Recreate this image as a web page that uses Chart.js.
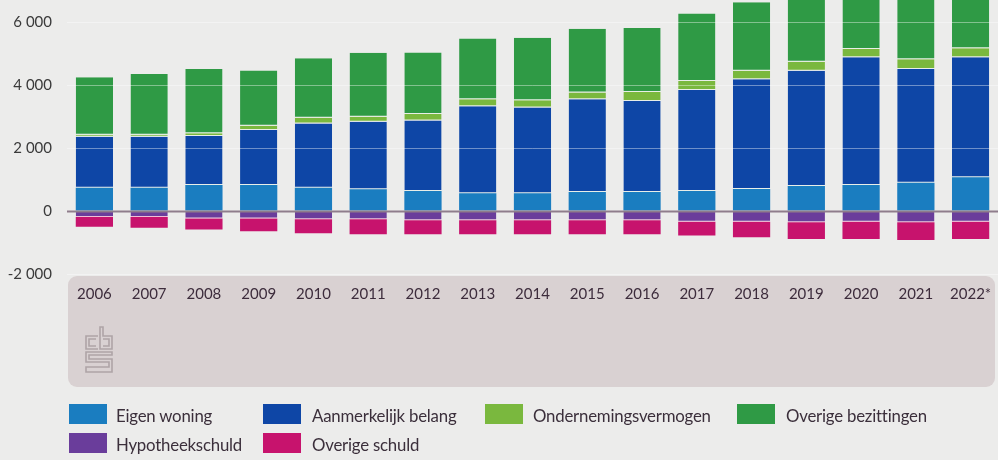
<!DOCTYPE html>
<html>
<head>
<meta charset="utf-8">
<script src="https://cdn.jsdelivr.net/npm/chart.js@4/dist/chart.umd.min.js"></script>
<style>
  html, body { margin: 0; padding: 0; background: #ececeb; }
  #wrap { position: relative; width: 998px; height: 460px; overflow: hidden; }
  #panel { position: absolute; left: 68px; top: 276px; width: 927px; height: 111px; background: #d9d1d2; border-radius: 9px; }
  #logo { position: absolute; left: 82px; top: 325px; }
  canvas { position: absolute; left: 0; top: 0; }
  .lg { position: absolute; font-family: Lato, "Open Sans", sans-serif; font-size: 16.8px; color: #3b2f3b; letter-spacing: -0.2px; }
  .sw { position: absolute; width: 38px; height: 20px; }
</style>
</head>
<body>
<div id="wrap">
  <div id="panel"></div>
  <svg id="logo" width="34" height="50" viewBox="0 0 34 50">
    <g fill="none" stroke="#aea4a7" stroke-width="1.6">
      <path d="M16 11 H4 V24 H16"/>
      <path d="M14 14 H7 V21 H14"/>
      <path d="M18 2 V24 H30 V11 H21 V2 Z"/>
      <path d="M21 14 H27 V21 H21"/>
      <path d="M30 27 H4 V37 H27 V42 H4 V47 H30 V34 H7 V30 H30 Z"/>
    </g>
  </svg>
  <canvas id="c" width="998" height="460"></canvas>
  <div id="legend"></div>
</div>
<script>
const categories = ["2006","2007","2008","2009","2010","2011","2012","2013","2014","2015","2016","2017","2018","2019","2020","2021","2022*"];
const eigenWoning         = [740, 740, 825, 825, 740, 690, 635, 560, 560, 600, 600, 635, 700, 795, 825, 900, 1070];
const aanmerkelijkBelang  = [1620, 1620, 1555, 1745, 2040, 2145, 2235, 2770, 2730, 2945, 2890, 3205, 3480, 3660, 4055, 3610, 3810];
const ondernemingsverm    = [60, 60, 90, 140, 180, 160, 210, 220, 230, 220, 290, 285, 275, 285, 265, 305, 285];
const overigeBezittingen  = [1825, 1930, 2040, 1755, 1890, 2030, 1950, 1930, 1980, 2020, 2030, 2150, 2170, 2300, 2250, 2400, 2300];
const hypotheekschuld     = [-190, -190, -240, -240, -260, -260, -290, -290, -290, -290, -290, -340, -340, -360, -340, -360, -340];
const overigeSchuld       = [-310, -340, -350, -400, -450, -480, -450, -450, -450, -450, -450, -440, -495, -530, -550, -560, -550];
const yTicks = [-2000, 0, 2000, 4000, 6000];

const seriesNames = ["Eigen woning","Aanmerkelijk belang","Ondernemingsvermogen","Overige bezittingen","Hypotheekschuld","Overige schuld"];
const seriesColors = ["#1a7dc0","#0e46a6","#7ab83e","#2f9a45","#6a3d9b","#c7136d"];
const seriesData = [eigenWoning, aanmerkelijkBelang, ondernemingsverm, overigeBezittingen, hypotheekschuld, overigeSchuld];
const sepBorder = [0, 1, 1, 1, 1, 0];

const fmt = v => { const s = Math.abs(v).toString().replace(/\B(?=(\d{3})+(?!\d))/g, " "); return (v < 0 ? "-" : "") + s; };

const zeroLine = {
  id: "zeroLine",
  afterDatasetsDraw(chart) {
    const {ctx, chartArea, scales} = chart;
    const y = Math.round(scales.y.getPixelForValue(0)) + 0.5;
    ctx.save();
    ctx.strokeStyle = "#8f7d8c";
    ctx.lineWidth = 2;
    ctx.beginPath();
    ctx.moveTo(chartArea.left, y);
    ctx.lineTo(chartArea.right, y);
    ctx.stroke();
    ctx.restore();
  }
};

new Chart(document.getElementById("c"), {
  type: "bar",
  data: {
    labels: categories,
    datasets: seriesData.map((d, i) => ({
      label: seriesNames[i],
      data: d,
      backgroundColor: seriesColors[i],
      borderColor: i === 4 ? "rgba(240,180,210,0.8)" : "rgba(230,240,230,0.55)",
      borderWidth: {top: 0, left: 0, right: 0, bottom: sepBorder[i]},
      borderSkipped: false,
      stack: "s"
    }))
  },
  options: {
    responsive: false,
    animation: false,
    devicePixelRatio: 1,
    layout: { padding: 0 },
    datasets: { bar: { barPercentage: 0.68, categoryPercentage: 1.0 } },
    plugins: { legend: { display: false }, tooltip: { enabled: false } },
    scales: {
      x: {
        stacked: true,
        grid: { display: false },
        border: { display: false },
        ticks: { padding: 3, color: "#3d2c3c", font: { family: "Lato", size: 15 }, maxRotation: 0, autoSkip: false },
        afterFit: s => { s.height = 186; s.paddingLeft = 0; s.paddingRight = 0; }
      },
      y: {
        stacked: true,
        min: -2000,
        max: 6700,
        afterBuildTicks: axis => { axis.ticks = yTicks.map(v => ({ value: v })); },
        grid: {
          z: 1,
          drawTicks: false,
          color: c => (c.tick && c.tick.value === 0) ? "rgba(0,0,0,0)" : "rgba(255,255,255,0.4)",
          lineWidth: 1
        },
        border: { display: false },
        ticks: { padding: 15, color: "#3a3a3a", font: { family: "Lato", size: 15 }, callback: v => fmt(v) },
        afterFit: s => { s.width = 67; s.paddingTop = 0; s.paddingBottom = 0; }
      }
    }
  },
  plugins: [zeroLine]
});

// HTML legend (two rows, four columns)
const legendPos = [
  {x: 69, y: 404, tx: 116}, {x: 263, y: 404, tx: 312}, {x: 485, y: 404, tx: 533}, {x: 737, y: 404, tx: 786},
  {x: 69, y: 433, tx: 116}, {x: 263, y: 433, tx: 312}
];
const lg = document.getElementById("legend");
seriesNames.forEach((n, i) => {
  const p = legendPos[i];
  const sw = document.createElement("div");
  sw.className = "sw"; sw.style.left = p.x + "px"; sw.style.top = p.y + "px"; sw.style.background = seriesColors[i];
  lg.appendChild(sw);
  const t = document.createElement("div");
  t.className = "lg"; t.style.left = p.tx + "px"; t.style.top = (p.y + 1) + "px"; t.textContent = n;
  lg.appendChild(t);
});
</script>
</body>
</html>
